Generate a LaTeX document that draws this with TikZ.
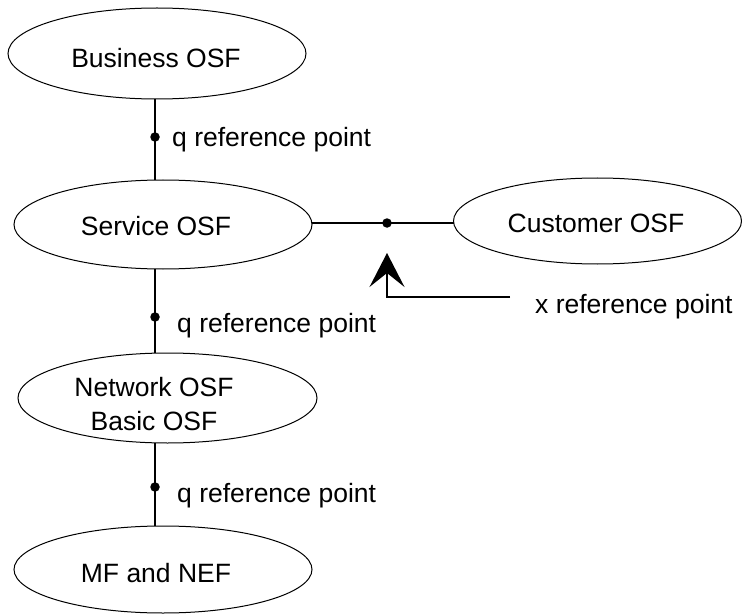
\documentclass[tikz,border=0pt]{standalone}
\usepackage{fontspec}
\setmainfont{Liberation Sans}
\usetikzlibrary{shapes.geometric,arrows.meta}
\tikzset{
  osf/.style={ellipse, draw, line width=1pt, inner sep=0pt, outer sep=0pt},
  lbl/.style={inner sep=0pt, font=\fontsize{26.5}{34}\selectfont},
  conn/.style={line width=2pt},
  refdot/.style={circle, fill, inner sep=0pt, minimum size=9.5pt},
  pointer/.style={line width=2pt, -{Stealth[length=34pt, width=35pt, inset=14pt]}}
}
\begin{document}
\begin{tikzpicture}[x=1pt, y=-1pt]
\useasboundingbox (0,0) rectangle (742,615);
% ellipses
\node[osf, minimum width=298pt, minimum height=91pt] (bus) at (157,53.5) {};
\node[osf, minimum width=298pt, minimum height=89pt] (svc) at (163,224.5) {};
\node[osf, minimum width=288pt, minimum height=86pt] (cus) at (597.5,221) {};
\node[osf, minimum width=299pt, minimum height=90pt] (net) at (167.5,398) {};
\node[osf, minimum width=298pt, minimum height=87pt] (mf) at (163,569.5) {};
% texts
\node[lbl] (tbus) at (156,58) {Business OSF};
\node[lbl] (tsvc) at (156,226) {Service OSF};
\node[lbl] (tcus) at (596,223) {Customer OSF};
\node[lbl, align=center] (tnet) at (154,404) {Network OSF\\Basic OSF};
\node[lbl] (tmf) at (156,573) {MF and NEF};
% reference points
\coordinate (q1) at (155,137);
\coordinate (q2) at (155,317);
\coordinate (q3) at (155,487);
\coordinate (xp) at (387,223);
\draw[conn] (bus.south -| q1) -- (svc.north -| q1);
\draw[conn] (svc.south -| q2) -- (net.north -| q2);
\draw[conn] (net.south -| q3) -- (mf.north -| q3);
\draw[conn] (svc.east |- xp) -- (cus.west |- xp);
\node[refdot] (d1) at (q1) {};
\node[refdot] (d2) at (q2) {};
\node[refdot] (d3) at (q3) {};
\node[refdot] (dx) at (xp) {};
\node[lbl, anchor=base west] (l1) at (172,146.5) {q reference point};
\node[lbl, anchor=base west] (l2) at (177,332) {q reference point};
\node[lbl, anchor=base west] (l3) at (177,502) {q reference point};
\node[lbl, anchor=base west] (lx) at (535,313) {x reference point};
\coordinate (xend) at (510,297);
\coordinate (xtip) at (387,253);
\draw[pointer] (xend) -- (xend -| xtip) -- (xtip);
\end{tikzpicture}
\end{document}
